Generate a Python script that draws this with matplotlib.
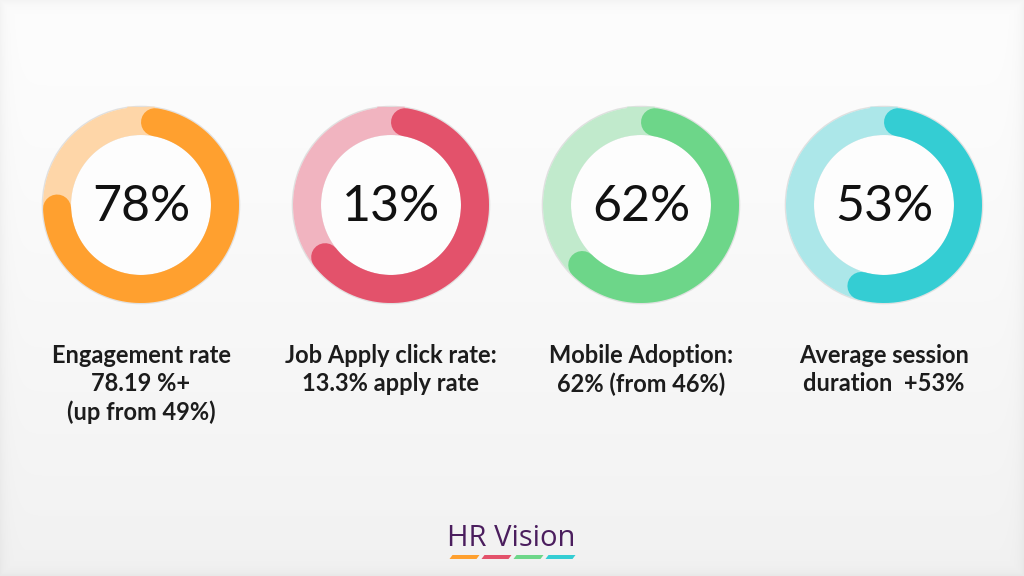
import matplotlib
matplotlib.use("Agg")
import matplotlib.pyplot as plt
from matplotlib.patches import Polygon, Circle
import numpy as np

# values shown in the centre of each ring
center_text = ["78%", "13%", "62%", "53%"]
# share of the ring that is filled, as drawn in the picture
arc_fill = [0.77, 0.67, 0.65, 0.57]
labels = ["Engagement rate\n78.19 %+\n(up from 49%)",
          "Job Apply click rate:\n13.3% apply rate",
          "Mobile Adoption:\n62% (from 46%)",
          "Average session\nduration  +53%"]
dark = ["#ffa02f", "#e3526b", "#6dd689", "#34cdd3"]
light = ["#fed6a8", "#f1b4c0", "#c1eacc", "#ace7e9"]

W, H = 1024, 576
cx = [141, 391, 641, 884]
cy = 205
r_mid = 84
ring_w = 28

fig = plt.figure(figsize=(W / 100, H / 100), dpi=100)
ax = fig.add_axes([0, 0, 1, 1])
ax.set_xlim(0, W)
ax.set_ylim(H, 0)
ax.axis("off")

# background: light vertical gradient with soft darker border
yy = np.linspace(0, 1, H)[:, None]
xx = np.linspace(0, 1, W)[None, :]
bg = 0.992 - 0.045 * yy ** 1.3 + 0 * xx
edge = np.minimum(np.minimum(xx * W, (1 - xx) * W), np.minimum(yy * H, (1 - yy) * H))
bg = bg - 0.035 * np.exp(-edge / 6.0)
ax.imshow(np.dstack([bg, bg, bg]), extent=[0, W, H, 0], zorder=0, aspect="auto")

lw = ring_w * 72 / 100
cap = np.degrees(np.arcsin((ring_w / 2) / r_mid))

for i in range(len(center_text)):
    x0 = cx[i]
    # soft shadow around ring
    for rr in (r_mid + ring_w / 2 + 0.6, r_mid - ring_w / 2 - 0.6):
        ax.add_patch(Circle((x0, cy), rr, fill=False, ec="#e0e0e0", lw=1.0, zorder=1))
    ax.add_patch(Circle((x0, cy), r_mid - ring_w / 2, fc="#fdfdfd", ec="none", zorder=1))
    t = np.radians(np.linspace(0, 360, 400))
    ax.plot(x0 + r_mid * np.sin(t), cy - r_mid * np.cos(t), color=light[i], lw=lw, zorder=2)
    a0 = cap
    a1 = arc_fill[i] * 360 - cap
    t = np.radians(np.linspace(a0, a1, 300))
    ax.plot(x0 + r_mid * np.sin(t), cy - r_mid * np.cos(t), color=dark[i], lw=lw,
            solid_capstyle="round", zorder=3)
    ax.text(x0, cy + 2, center_text[i], ha="center", va="center", fontsize=36,
            family="Lato", color="#111111", zorder=4)
    ax.text(x0, 344, labels[i], ha="center", va="top", multialignment="center",
            fontsize=17, family="Lato", weight="bold", color="#1c1c1c",
            linespacing=1.27, zorder=4)

# logo
ax.text(511, 538, "HR Vision", ha="center", va="center", fontsize=21,
        family="Open Sans", color="#4b1e5e", zorder=4)
seg_w, gap, skew = 27, 5, 3
x_start = 511 - (4 * seg_w + 3 * gap) / 2
for k, c in enumerate(dark):
    xs = x_start + k * (seg_w + gap)
    ax.add_patch(Polygon([(xs + skew, 555), (xs + seg_w + skew, 555),
                          (xs + seg_w, 559), (xs, 559)], closed=True,
                         fc=c, ec="none", zorder=4))

fig.savefig("out.png", dpi=100)
